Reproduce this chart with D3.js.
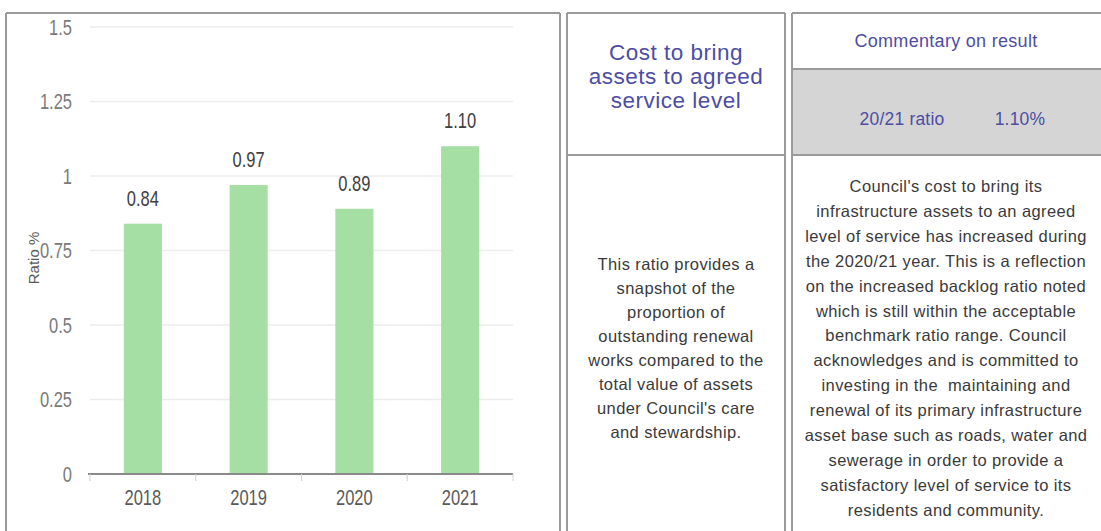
<!DOCTYPE html>
<html>
<head>
<meta charset="utf-8">
<script src="https://cdn.jsdelivr.net/npm/d3@7"></script>
<style>
  html, body { margin: 0; padding: 0; background: #fff; }
  svg { display: block; }
</style>
</head>
<body>
<svg id="chart" width="1101" height="531"></svg>
<script>
// Backlog ratio by year
const years = ["2018", "2019", "2020", "2021"];
const ratioValues = [0.84, 0.97, 0.89, 1.10];
const yTicks = [0, 0.25, 0.5, 0.75, 1, 1.25, 1.5];
const yTickLabels = ["0", "0.25", "0.5", "0.75", "1", "1.25", "1.5"];

// Text panels
const measureTitle = ["Cost to bring", "assets to agreed", "service level"];
const measureDescription = [
  "This ratio provides a",
  "snapshot of the",
  "proportion of",
  "outstanding renewal",
  "works compared to the",
  "total value of assets",
  "under Council's care",
  "and stewardship."
];
const commentaryHeading = "Commentary on result";
const resultLabel = "20/21 ratio";
const resultValue = "1.10%";
const commentaryLines = [
  "Council's cost to bring its",
  "infrastructure assets to an agreed",
  "level of service has increased during",
  "the 2020/21 year. This is a reflection",
  "on the increased backlog ratio noted",
  "which is still within the acceptable",
  "benchmark ratio range. Council",
  "acknowledges and is committed to",
  "investing in the  maintaining and",
  "renewal of its primary infrastructure",
  "asset base such as roads, water and",
  "sewerage in order to provide a",
  "satisfactory level of service to its",
  "residents and community."
];

const svg = d3.select("#chart");
const sans = "'Liberation Sans', Arial, sans-serif";
const numFont = "'Liberation Sans', Arial, sans-serif";
const numSize = 22;
const squeeze = 0.75;   // narrow digits for the chart numbers

// ---- panel frames ----
const frame = "#9a9a9a";
function box(x0, y0, x1, y1, sides) {
  const g = svg.append("g").attr("stroke", frame).attr("stroke-width", 2).attr("fill", "none");
  if (sides.includes("t")) g.append("line").attr("x1", x0).attr("x2", x1).attr("y1", y0).attr("y2", y0);
  if (sides.includes("l")) g.append("line").attr("x1", x0).attr("x2", x0).attr("y1", y0).attr("y2", y1);
  if (sides.includes("r")) g.append("line").attr("x1", x1).attr("x2", x1).attr("y1", y0).attr("y2", y1);
}
box(6, 13, 560, 540, "tlr");
box(567, 13, 785, 540, "tlr");
box(792, 13, 1110, 540, "tl");

// ---- chart ----
const x = d3.scaleBand().domain(years).range([90, 513]).paddingInner(0.64).paddingOuter(0.32);
const y = d3.scaleLinear().domain([0, 1.5]).range([474, 27]);

// gridlines
svg.append("g")
  .selectAll("line")
  .data(yTicks.filter(d => d > 0))
  .join("line")
  .attr("x1", 90).attr("x2", 513)
  .attr("y1", d => y(d)).attr("y2", d => y(d))
  .attr("stroke", "#ececec").attr("stroke-width", 1.5);

// bars
svg.append("g")
  .selectAll("rect")
  .data(years)
  .join("rect")
  .attr("x", d => x(d))
  .attr("width", x.bandwidth())
  .attr("y", (d, i) => y(ratioValues[i]))
  .attr("height", (d, i) => y(0) - y(ratioValues[i]))
  .attr("fill", "#a6dfa3");

// value labels
svg.append("g")
  .selectAll("text")
  .data(years)
  .join("text")
  .attr("transform", (d, i) =>
    `translate(${x(d) + x.bandwidth() / 2},${y(ratioValues[i]) - 18}) scale(${squeeze},1)`)
  .attr("text-anchor", "middle")
  .attr("font-family", numFont)
  .attr("font-size", numSize)
  .attr("fill", "#404040")
  .text((d, i) => ratioValues[i].toFixed(2));

// y axis (labels only)
const yAxis = d3.axisLeft(y).tickValues(yTicks).tickFormat((d, i) => yTickLabels[i])
  .tickSize(0).tickPadding(18 / squeeze);
const yg = svg.append("g").attr("transform", "translate(90,0)").call(yAxis);
yg.select(".domain").remove();
yg.selectAll("text")
  .attr("transform", `scale(${squeeze},1)`)
  .attr("font-family", numFont).attr("font-size", numSize).attr("fill", "#7a7a7a");

// x axis with boundary ticks
svg.append("line")
  .attr("x1", 88).attr("x2", 513)
  .attr("y1", y(0)).attr("y2", y(0))
  .attr("stroke", "#8a8a8a").attr("stroke-width", 2);
const step = x.step();
const bounds = d3.range(years.length + 1).map(i => x.range()[0] + i * step);
svg.append("g")
  .selectAll("line")
  .data(bounds)
  .join("line")
  .attr("x1", d => d).attr("x2", d => d)
  .attr("y1", y(0)).attr("y2", y(0) + 7)
  .attr("stroke", "#d0d0d0").attr("stroke-width", 1);
const xAxis = d3.axisBottom(x).tickSize(0).tickPadding(15);
const xg = svg.append("g").attr("transform", `translate(0,${y(0)})`).call(xAxis);
xg.select(".domain").remove();
xg.selectAll("text")
  .attr("transform", `scale(${squeeze},1)`)
  .attr("font-family", numFont).attr("font-size", numSize).attr("fill", "#5a5a5a");

// y axis title
svg.append("text")
  .attr("transform", "translate(39,258) rotate(-90)")
  .attr("text-anchor", "middle")
  .attr("font-family", sans)
  .attr("font-size", 15)
  .attr("fill", "#5a5a5a")
  .text("Ratio %");

// ---- middle panel ----
const midX = 676;
svg.append("line").attr("x1", 567).attr("x2", 785).attr("y1", 155).attr("y2", 155)
  .attr("stroke", frame).attr("stroke-width", 2);
svg.append("g")
  .selectAll("text")
  .data(measureTitle)
  .join("text")
  .attr("x", midX)
  .attr("y", (d, i) => 60 + i * 24)
  .attr("text-anchor", "middle")
  .attr("font-family", sans)
  .attr("font-size", 22.5)
  .attr("letter-spacing", 0.5)
  .attr("fill", "#4d4da3")
  .text(d => d);
svg.append("g")
  .selectAll("text")
  .data(measureDescription)
  .join("text")
  .attr("x", midX)
  .attr("y", (d, i) => 270 + i * 24)
  .attr("text-anchor", "middle")
  .attr("font-family", sans)
  .attr("font-size", 16.5)
  .attr("letter-spacing", 0.4)
  .attr("fill", "#3a3a3a")
  .text(d => d);

// ---- right panel ----
const rightX = 946;
svg.append("rect").attr("x", 793).attr("y", 69).attr("width", 320).attr("height", 86)
  .attr("fill", "#d5d5d5");
svg.append("line").attr("x1", 792).attr("x2", 1110).attr("y1", 69).attr("y2", 69)
  .attr("stroke", frame).attr("stroke-width", 2);
svg.append("line").attr("x1", 792).attr("x2", 1110).attr("y1", 155).attr("y2", 155)
  .attr("stroke", frame).attr("stroke-width", 2);
svg.append("text")
  .attr("x", rightX).attr("y", 47)
  .attr("text-anchor", "middle")
  .attr("font-family", sans).attr("font-size", 18).attr("letter-spacing", 0.3)
  .attr("fill", "#4d4da3")
  .text(commentaryHeading);
svg.append("text")
  .attr("x", 902).attr("y", 125)
  .attr("text-anchor", "middle")
  .attr("font-family", sans).attr("font-size", 17.5).attr("letter-spacing", 0.2)
  .attr("fill", "#4d4da3")
  .text(resultLabel);
svg.append("text")
  .attr("x", 1020).attr("y", 125)
  .attr("text-anchor", "middle")
  .attr("font-family", sans).attr("font-size", 17.5).attr("letter-spacing", 0.2)
  .attr("fill", "#4d4da3")
  .text(resultValue);
svg.append("g")
  .selectAll("text")
  .data(commentaryLines)
  .join("text")
  .attr("x", rightX)
  .attr("y", (d, i) => 192 + i * 24.9)
  .attr("text-anchor", "middle")
  .attr("font-family", sans)
  .attr("font-size", 16.5)
  .attr("letter-spacing", 0.4)
  .attr("fill", "#3a3a3a")
  .attr("xml:space", "preserve")
  .text(d => d);
</script>
</body>
</html>
